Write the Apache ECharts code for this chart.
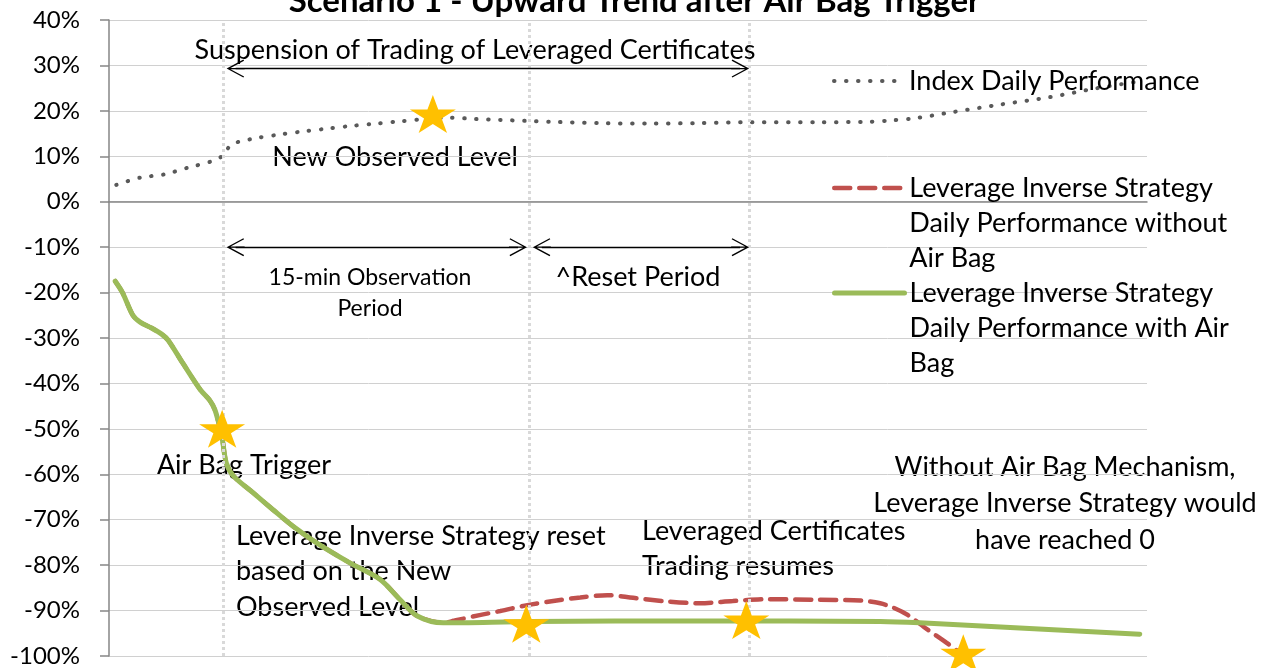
<!DOCTYPE html>
<html>
<head>
<meta charset="utf-8">
<script src="https://cdn.jsdelivr.net/npm/echarts@6.0.0/dist/echarts.min.js"></script>
<style>
  html, body { margin: 0; padding: 0; background: #fff; }
  #chart { width: 1269px; height: 668px; }
</style>
</head>
<body>
<div id="chart"></div>
<script>
// x is a plain time step from 0 to 100 across the plot
const indexX = [0.7, 3.0, 5.3, 7.6, 9.9, 11.0, 11.8, 14.2, 16.5, 18.8, 21.1, 23.4, 25.8, 28.1, 30.4, 32.9, 35.3, 37.7, 40.1, 42.5, 47.3, 52.1, 56.9, 61.8, 68.5, 73.3, 75.4, 77.7, 81.2, 85.9, 90.6, 95.2, 99.3];
const indexY = [3.7, 5.3, 6.0, 7.5, 8.9, 10.2, 12.6, 14.0, 14.8, 15.5, 16.1, 16.7, 17.2, 17.7, 18.2, 18.5, 18.2, 18.0, 17.8, 17.6, 17.3, 17.2, 17.3, 17.5, 17.5, 17.6, 17.9, 18.4, 19.7, 21.4, 23.0, 25.0, 26.5];

const withBagX = [0.6, 1.3, 2.3, 3.0, 4.1, 5.1, 5.7, 7.1, 8.8, 9.7, 10.2, 10.6, 10.9, 11.3, 12.0, 13.9, 15.8, 17.7, 20.0, 23.2, 26.1, 28.0, 29.7, 32.2, 40.6, 56.9, 74.3, 78.1, 99.3];
const withBagY = [-17.5, -20.0, -25.0, -26.5, -27.8, -29.2, -30.5, -35.5, -41.4, -43.7, -45.8, -49.0, -52.0, -57.5, -60.4, -64.1, -67.8, -71.4, -75.1, -79.5, -83.1, -87.5, -91.2, -92.7, -92.4, -92.3, -92.4, -92.7, -95.2];

const noBagX = [0.6, 1.3, 2.3, 3.0, 4.1, 5.1, 5.7, 7.1, 8.8, 9.7, 10.2, 10.6, 10.9, 11.3, 12.0, 13.9, 15.8, 17.7, 20.0, 23.2, 26.1, 28.0, 29.7, 32.2, 33.3, 35.7, 37.7, 40.3, 42.8, 45.4, 48.0, 50.5, 53.8, 56.9, 60.1, 63.4, 67.8, 72.4, 74.3, 75.5, 76.9, 78.8, 80.7, 82.0];
const noBagY = [-17.5, -20.0, -25.0, -26.5, -27.8, -29.2, -30.5, -35.5, -41.4, -43.7, -45.8, -49.0, -52.0, -57.5, -60.4, -64.1, -67.8, -71.4, -75.1, -79.5, -83.1, -87.5, -91.2, -92.7, -92.2, -91.0, -90.1, -88.8, -87.9, -87.1, -86.6, -87.2, -88.0, -88.4, -87.9, -87.5, -87.6, -87.8, -88.4, -89.3, -90.9, -94.1, -97.1, -99.3];

const starX = [10.9, 31.2, 40.2, 61.4, 82.3];
const starY = [-50.0, 19.3, -92.9, -92.1, -99.4];

// trigger, end of observation, end of reset
const periodX = [11.0, 40.5, 61.7];
// [from, to, level]
const arrows = [
  [12.2, 60.8, 29.3],
  [12.2, 39.4, -10],
  [41.7, 60.8, -10]
];

const indexName = 'Index Daily Performance';
const noBagName = 'Leverage Inverse Strategy Daily Performance without Air Bag';
const withBagName = 'Leverage Inverse Strategy Daily Performance with Air Bag';
// two blank lines up front keep the icon on the first text line
const legendText = {};
legendText[indexName] = 'Index Daily Performance';
legendText[noBagName] = '\n\nLeverage Inverse Strategy\nDaily Performance without\nAir Bag';
legendText[withBagName] = '\n\nLeverage Inverse Strategy\nDaily Performance with Air\nBag';

const font = 'Lato';
const starPath = 'path://M50,0 L61.2,34.5 L97.6,34.5 L68.2,55.9 L79.4,90.5 L50,69.1 L20.6,90.5 L31.8,55.9 L2.4,34.5 L38.8,34.5 Z';
const arrowPath = 'path://M10,0 L20,18.6 L18.8,19.4 L10.7,4.4 L10.7,20 L9.3,20 L9.3,4.4 L1.2,19.4 L0,18.6 Z';

function zip(xs, ys) {
  return xs.map((x, i) => [x, ys[i]]);
}

function legendAt(name, top, width) {
  return {
    data: [name],
    left: 832,
    top: top,
    orient: 'vertical',
    padding: 0,
    itemWidth: 70,
    itemHeight: 14,
    selectedMode: false,
    itemStyle: { opacity: 0 },
    lineStyle: { width: width },
    formatter: (n) => legendText[n],
    textStyle: { fontFamily: font, fontSize: 27, lineHeight: 35, color: '#000' }
  };
}

function label(text, x, y, align, size, lh) {
  return {
    type: 'text',
    x: x,
    y: y,
    silent: true,
    style: {
      text: text,
      fontFamily: font,
      fontSize: size || 27,
      lineHeight: lh || 35,
      fill: '#000',
      align: align,
      verticalAlign: 'middle'
    }
  };
}

const chart = echarts.init(document.getElementById('chart'));
const option = {
  animation: false,
  backgroundColor: '#fff',
  textStyle: { fontFamily: font },
  title: {
    text: 'Scenario 1 - Upward Trend after Air Bag Trigger',
    left: 'center',
    top: -15,
    padding: 0,
    textStyle: { fontFamily: font, fontSize: 33, fontWeight: 'bold', color: '#000' }
  },
  legend: [
    legendAt(indexName, 63.5, 4),
    legendAt(noBagName, 100.5, 4.5),
    legendAt(withBagName, 205.5, 5)
  ],
  grid: { left: 109, right: 122, top: 20, bottom: 11 },
  xAxis: {
    type: 'value',
    min: 0,
    max: 100,
    axisLine: { show: true, onZero: true, lineStyle: { color: '#868686', width: 1.5 } },
    axisTick: { show: false },
    axisLabel: { show: false },
    splitLine: { show: false }
  },
  yAxis: {
    type: 'value',
    min: -100,
    max: 40,
    interval: 10,
    axisLine: { show: true, lineStyle: { color: '#868686', width: 1.5 } },
    axisTick: { show: true, length: 9, lineStyle: { color: '#868686', width: 1.5 } },
    axisLabel: { formatter: '{value}%', margin: 29, fontSize: 24, fontFamily: font, color: '#000' },
    splitLine: { lineStyle: { color: '#d0d0d0', width: 1 } }
  },
  series: [
    {
      name: indexName,
      type: 'line',
      data: zip(indexX, indexY),
      smooth: 0.3,
      symbol: 'none',
      lineStyle: { color: '#595959', width: 4, type: [0.5, 11.5], cap: 'round' },
      itemStyle: { color: '#595959' },
      markLine: {
        silent: true,
        symbol: 'none',
        label: { show: false },
        lineStyle: { color: '#d9d9d9', width: 3, type: [3, 3] },
        data: periodX.map((x) => ({ xAxis: x }))
      }
    },
    {
      name: noBagName,
      type: 'line',
      data: zip(noBagX, noBagY),
      smooth: 0.3,
      symbol: 'none',
      lineStyle: { color: '#C0504D', width: 4.5, type: [16, 9], cap: 'round' },
      itemStyle: { color: '#C0504D' }
    },
    {
      name: withBagName,
      type: 'line',
      data: zip(withBagX, withBagY),
      smooth: 0.3,
      symbol: 'none',
      lineStyle: { color: '#9BBB59', width: 5, cap: 'round' },
      itemStyle: { color: '#9BBB59' }
    },
    {
      name: 'stars',
      type: 'scatter',
      z: 5,
      data: zip(starX, starY),
      symbol: starPath,
      symbolSize: [46, 38],
      itemStyle: { color: '#FFC000', opacity: 1 },
      markLine: {
        silent: true,
        symbol: [arrowPath, arrowPath],
        symbolSize: 18,
        label: { show: false },
        lineStyle: { color: '#000', width: 1.3, type: 'solid' },
        itemStyle: { color: '#000' },
        data: arrows.map((a) => [{ coord: [a[0], a[2]] }, { coord: [a[1], a[2]] }])
      }
    }
  ],
  graphic: [
    label('Suspension of Trading of Leveraged Certificates', 475, 50, 'center'),
    label('New Observed Level', 395, 157, 'center'),
    label('15-min Observation\nPeriod', 370, 293.5, 'center', 23, 31),
    label('^Reset Period', 638, 277, 'center'),
    label('Air Bag Trigger', 244, 465, 'center'),
    label('Leverage Inverse Strategy reset\nbased on the New\nObserved Level', 236, 571.3, 'left', 27, 35.5),
    label('Leveraged Certificates\nTrading resumes', 642, 548.5, 'left'),
    label('Without Air Bag Mechanism,\nLeverage Inverse Strategy would\nhave reached 0', 1065, 503.3, 'center', 27, 36.5)
  ]
};
chart.setOption(option);
</script>
</body>
</html>
